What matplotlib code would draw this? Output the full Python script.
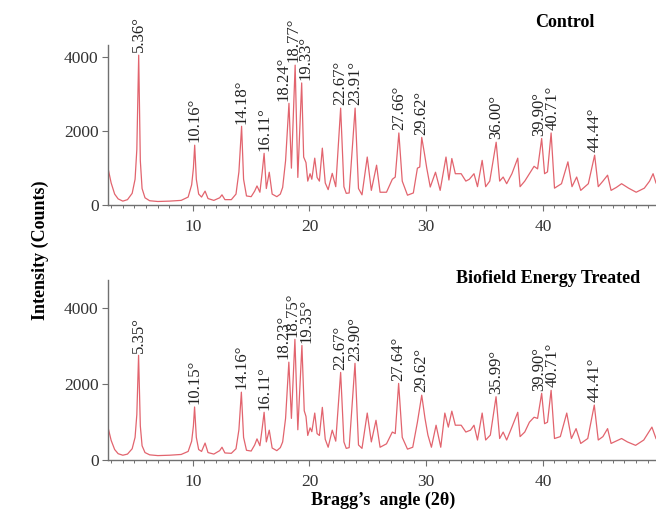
import numpy as np
import matplotlib
matplotlib.use('Agg')
from matplotlib import pyplot as plt
from matplotlib.ticker import MultipleLocator

plt.rcParams['font.family'] = ['Liberation Serif', 'DejaVu Serif']

#---DATA---#
# Control trace: 2theta (deg), counts
control_angle = [2.75, 3.0, 3.3, 3.6, 4.0, 4.4, 4.8, 5.05, 5.2, 5.36, 5.5, 5.65, 5.9, 6.3, 7.0, 8.0, 9.0,
                 9.6, 9.9, 10.05, 10.16, 10.3, 10.5, 10.75, 11.05, 11.3, 11.8, 12.3, 12.5, 12.75, 13.3,
                 13.7, 13.95, 14.18, 14.35, 14.6, 15.0, 15.3, 15.5, 15.75, 15.95, 16.11, 16.3, 16.55,
                 16.8, 17.2, 17.5, 17.7, 17.95, 18.24, 18.45, 18.77, 19.0, 19.33, 19.5, 19.7, 19.85,
                 20.05, 20.2, 20.45, 20.65, 20.85, 21.1, 21.35, 21.6, 21.95, 22.25, 22.67, 22.95, 23.15,
                 23.4, 23.91, 24.2, 24.5, 24.95, 25.3, 25.75, 26.05, 26.6, 27.1, 27.35, 27.66, 27.95,
                 28.4, 28.9, 29.25, 29.45, 29.62, 29.85, 30.05, 30.35, 30.8, 31.2, 31.7, 31.95, 32.2,
                 32.5, 33.0, 33.4, 33.7, 34.1, 34.4, 34.8, 35.1, 35.45, 36.0, 36.3, 36.6, 36.9, 37.35,
                 37.85, 38.05, 38.45, 38.85, 39.25, 39.55, 39.9, 40.15, 40.4, 40.71, 41.0, 41.6, 42.15,
                 42.5, 42.9, 43.25, 43.9, 44.44, 44.75, 45.15, 45.55, 45.85, 46.3, 46.75, 47.35, 48.0,
                 48.7, 49.15, 49.45, 49.7]
control_counts = [970, 600, 300, 170, 110, 150, 320, 700, 1500, 4050, 1200, 450, 200, 120, 100, 110, 130,
                  220, 550, 1000, 1620, 700, 300, 220, 380, 180, 130, 200, 280, 150, 150,
                  300, 900, 2130, 700, 250, 230, 380, 520, 350, 900, 1400, 450, 890,
                  300, 230, 300, 480, 1200, 2750, 1000, 3780, 750, 3300, 1300, 1150, 650,
                  850, 700, 1270, 750, 650, 1540, 600, 420, 860, 500, 2620, 500, 320,
                  330, 2620, 450, 280, 1300, 400, 1080, 350, 350, 700, 760, 1950, 650,
                  270, 330, 1000, 1030, 1830, 1400, 1000, 490, 890, 400, 1300, 680, 1260,
                  850, 850, 650, 700, 850, 500, 1210, 500, 650, 1700, 650, 760, 580, 850,
                  1270, 500, 650, 850, 1050, 980, 1800, 850, 900, 1950, 460, 580, 1170,
                  500, 760, 400, 580, 1350, 500, 650, 810, 400, 480, 580, 460, 350,
                  460, 650, 850, 600]

# Biofield energy treated trace
treated_angle = [2.75, 3.0, 3.3, 3.6, 4.0, 4.4, 4.8, 5.05, 5.2, 5.35, 5.5, 5.65, 5.9, 6.3, 7.0, 8.0, 9.0,
                 9.6, 9.9, 10.05, 10.15, 10.3, 10.5, 10.75, 11.05, 11.3, 11.8, 12.3, 12.5, 12.75, 13.3,
                 13.7, 13.95, 14.16, 14.35, 14.6, 15.0, 15.3, 15.5, 15.75, 15.95, 16.11, 16.3, 16.55,
                 16.8, 17.2, 17.5, 17.7, 17.95, 18.23, 18.45, 18.75, 19.0, 19.35, 19.55, 19.7, 19.85,
                 20.05, 20.2, 20.45, 20.65, 20.85, 21.1, 21.35, 21.6, 21.95, 22.25, 22.67, 22.95, 23.15,
                 23.4, 23.9, 24.2, 24.5, 24.95, 25.3, 25.7, 26.05, 26.6, 27.1, 27.35, 27.64, 27.95,
                 28.4, 28.85, 29.25, 29.62, 29.9, 30.15, 30.45, 30.85, 31.25, 31.6, 31.9, 32.2,
                 32.5, 33.0, 33.4, 33.8, 34.1, 34.4, 34.8, 35.1, 35.5, 35.99, 36.3, 36.6, 36.9, 37.35,
                 37.85, 38.05, 38.45, 38.85, 39.25, 39.55, 39.9, 40.15, 40.4, 40.71, 41.0, 41.5, 42.05,
                 42.45, 42.85, 43.25, 43.85, 44.41, 44.75, 45.15, 45.55, 45.85, 46.75, 47.25, 47.95,
                 48.65, 49.35, 49.7]
treated_counts = [840, 520, 280, 170, 130, 160, 300, 600, 1200, 2760, 900, 380, 200, 140, 120, 130, 150,
                  230, 500, 900, 1400, 600, 280, 230, 450, 200, 160, 250, 340, 190, 180,
                  300, 800, 1790, 600, 260, 240, 400, 560, 380, 850, 1260, 480, 790,
                  320, 250, 330, 480, 1100, 2580, 1100, 3180, 800, 3020, 1300, 1150, 650,
                  850, 750, 1240, 700, 650, 1390, 550, 340, 790, 500, 2310, 480, 310,
                  330, 2550, 400, 310, 1240, 480, 1050, 340, 430, 740, 700, 2020, 600,
                  290, 340, 1000, 1710, 1100, 660, 340, 920, 340, 1240, 870, 1290,
                  920, 920, 740, 790, 920, 530, 1240, 530, 660, 1670, 570, 740, 530, 870,
                  1260, 620, 740, 1000, 1130, 1100, 1760, 960, 1000, 1840, 570, 620, 1240,
                  570, 830, 440, 570, 1450, 530, 620, 830, 440, 570, 480, 390,
                  530, 870, 570]

control_peaks = [5.36, 10.16, 14.18, 16.11, 18.24, 18.77, 19.33, 22.67, 23.91, 27.66, 29.62,
                 36.00, 39.90, 40.71, 44.44]
treated_peaks = [5.35, 10.15, 14.16, 16.11, 18.23, 18.75, 19.35, 22.67, 23.90, 27.64, 29.62,
                 35.99, 39.90, 40.71, 44.41]

# small horizontal nudges (points) for crowded labels
nudge = {18.24: -4, 18.23: -4, 18.77: -1, 18.75: -2, 19.33: 3, 19.35: 3,
         39.90: -2, 40.71: 1}

line_col = '#e2646e'
spine_col = '#707070'

fig = plt.figure(figsize=(6.56, 5.13), dpi=100)
ax1 = fig.add_axes([0.165, 0.600, 0.835, 0.312])
ax2 = fig.add_axes([0.165, 0.103, 0.835, 0.351])


def style(ax, ytop):
    ax.set_xlim(2.75, 49.7)
    ax.set_ylim(0, ytop)
    for s in ['top', 'right']:
        ax.spines[s].set_visible(False)
    for s in ['left', 'bottom']:
        ax.spines[s].set_color(spine_col)
        ax.spines[s].set_linewidth(1.0)
    ax.xaxis.set_major_locator(MultipleLocator(10))
    ax.xaxis.set_minor_locator(MultipleLocator(1))
    ax.set_yticks([0, 2000, 4000])
    ax.tick_params(axis='both', which='major', direction='out', length=4, width=0.8,
                   color=spine_col, labelsize=12.5, labelcolor='#333333', pad=3)
    ax.tick_params(axis='x', which='minor', direction='out', length=2.5, width=0.7,
                   color=spine_col)
    ax.tick_params(axis='x', which='major', pad=6)


def label_peaks(ax, angles, counts, peaks):
    for p in peaks:
        i = int(np.argmin(np.abs(np.array(angles) - p)))
        ax.annotate('%.2f°' % p, xy=(p, counts[i]), xytext=(nudge.get(p, 0), 2),
                    textcoords='offset points', rotation=90, ha='center', va='bottom',
                    fontsize=12, color='#222222', annotation_clip=False)


ax1.plot(control_angle, control_counts, color=line_col, lw=0.9)
style(ax1, 4320)
label_peaks(ax1, control_angle, control_counts, control_peaks)

ax2.plot(treated_angle, treated_counts, color=line_col, lw=0.9)
style(ax2, 4740)
label_peaks(ax2, treated_angle, treated_counts, treated_peaks)

fig.text(0.861, 0.957, 'Control', fontsize=13, fontweight='bold', ha='center', va='center')
fig.text(0.835, 0.458, 'Biofield Energy Treated', fontsize=13, fontweight='bold',
         ha='center', va='center')
fig.text(0.062, 0.513, 'Intensity (Counts)', fontsize=13, fontweight='bold', rotation=90,
         ha='center', va='center')
fig.text(0.584, 0.025, 'Bragg’s  angle (2θ)', fontsize=13, fontweight='bold',
         ha='center', va='center')

fig.savefig('out.png', dpi=100)
